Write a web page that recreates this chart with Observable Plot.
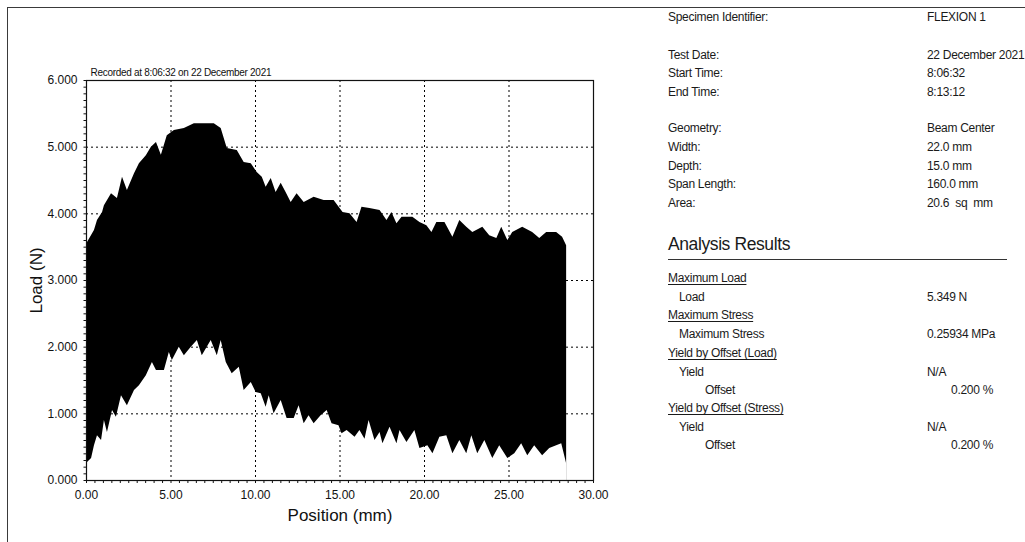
<!DOCTYPE html>
<html>
<head>
<meta charset="utf-8">
<script src="https://cdn.jsdelivr.net/npm/d3@7"></script>
<script src="https://cdn.jsdelivr.net/npm/@observablehq/plot@0.6"></script>
<style>
  body { margin: 0; background: #fff; font-family: "Liberation Sans", Arial, sans-serif; }
  #page { position: relative; width: 1025px; height: 542px; overflow: hidden; background: #fff; }
  #box { position: absolute; left: 7px; top: 7px; width: 1100px; height: 600px; border-top: 1px solid #3a3a3a; border-left: 1px solid #3a3a3a; }
  #chart { position: absolute; left: 0; top: 0; }
  .t { position: absolute; font-size: 12px; line-height: 14px; color: #1a1a1a; white-space: nowrap; letter-spacing: -0.3px; }
  .u { text-decoration: underline; text-underline-offset: 2px; }
  .r { text-align: right; }
  #ar { position: absolute; left: 668px; top: 234px; font-size: 17.5px; line-height: 20px; color: #1a1a1a; white-space: nowrap; letter-spacing: -0.4px; }
  #arline { position: absolute; left: 668px; top: 259px; width: 339px; height: 0; border-top: 1px solid #333; }
  .ttl text { letter-spacing: -0.3px; }
</style>
</head>
<body>
<div id="page">
  <div id="box"></div>
  <div id="chart"></div>

  <div class="t" style="left:668px;top:10px">Specimen Identifier:</div>
  <div class="t" style="left:927px;top:10px">FLEXION 1</div>

  <div class="t" style="left:668px;top:48px">Test Date:</div>
  <div class="t" style="left:927px;top:48px">22 December 2021</div>
  <div class="t" style="left:668px;top:66px">Start Time:</div>
  <div class="t" style="left:927px;top:66px">8:06:32</div>
  <div class="t" style="left:668px;top:85px">End Time:</div>
  <div class="t" style="left:927px;top:85px">8:13:12</div>

  <div class="t" style="left:668px;top:121px">Geometry:</div>
  <div class="t" style="left:927px;top:121px">Beam Center</div>
  <div class="t" style="left:668px;top:140px">Width:</div>
  <div class="t" style="left:927px;top:140px">22.0 mm</div>
  <div class="t" style="left:668px;top:159px">Depth:</div>
  <div class="t" style="left:927px;top:159px">15.0 mm</div>
  <div class="t" style="left:668px;top:177px">Span Length:</div>
  <div class="t" style="left:927px;top:177px">160.0 mm</div>
  <div class="t" style="left:668px;top:196px">Area:</div>
  <div class="t" style="left:927px;top:196px">20.6&nbsp; sq&nbsp; mm</div>

  <div id="ar">Analysis Results</div>
  <div id="arline"></div>

  <div class="t u" style="left:668px;top:271px">Maximum Load</div>
  <div class="t" style="left:679px;top:290px">Load</div>
  <div class="t" style="left:927px;top:290px">5.349 N</div>
  <div class="t u" style="left:668px;top:308px">Maximum Stress</div>
  <div class="t" style="left:679px;top:327px">Maximum Stress</div>
  <div class="t" style="left:927px;top:327px">0.25934 MPa</div>
  <div class="t u" style="left:668px;top:346px">Yield by Offset (Load)</div>
  <div class="t" style="left:679px;top:365px">Yield</div>
  <div class="t" style="left:927px;top:365px">N/A</div>
  <div class="t" style="left:705px;top:383px">Offset</div>
  <div class="t r" style="right:32px;top:383px">0.200 %</div>
  <div class="t u" style="left:668px;top:401px">Yield by Offset (Stress)</div>
  <div class="t" style="left:679px;top:420px">Yield</div>
  <div class="t" style="left:927px;top:420px">N/A</div>
  <div class="t" style="left:705px;top:438px">Offset</div>
  <div class="t r" style="right:32px;top:438px">0.200 %</div>
</div>

<script>
// ---- Data (Position mm, Load N) ----
const upperX = [0, 0.06, 0.47, 0.65, 0.95, 1.06, 1.48, 1.83, 2.13, 2.42, 2.84, 3.13, 3.54, 3.84, 4.14, 4.43, 4.78, 5.20, 5.79, 6.38, 6.97, 7.56, 7.97, 8.33, 8.92, 9.33, 9.75, 10.10, 10.40, 10.63, 10.93, 11.22, 11.52, 11.81, 12.11, 12.46, 12.88, 13.47, 14.06, 14.65,
  15.18, 15.59, 16.01, 16.30, 16.77, 17.37, 17.78, 18.07, 18.37, 18.67, 19.31, 19.73, 20.14, 20.44, 20.73, 21.21, 21.68, 22.09, 22.50, 22.86, 23.45, 23.86, 24.28, 24.57, 24.93, 25.22, 25.81, 26.40, 26.82, 27.23, 27.82, 28.17, 28.41];
const upperLoad = [3.50, 3.57, 3.75, 3.90, 4.02, 4.12, 4.30, 4.23, 4.55, 4.35, 4.60, 4.75, 4.87, 5.00, 5.07, 4.88, 5.17, 5.25, 5.28, 5.35, 5.35, 5.35, 5.28, 4.98, 4.95, 4.77, 4.75, 4.62, 4.55, 4.40, 4.53, 4.32, 4.46, 4.32, 4.17, 4.30, 4.17, 4.25, 4.20, 4.20,
  4.02, 4.00, 3.87, 4.10, 4.08, 4.05, 3.90, 4.02, 3.85, 3.95, 3.95, 3.87, 3.82, 3.72, 3.87, 3.87, 3.65, 3.90, 3.80, 3.72, 3.80, 3.67, 3.63, 3.80, 3.60, 3.72, 3.80, 3.72, 3.63, 3.72, 3.72, 3.65, 3.52];

const lowerX = [0, 0.06, 0.30, 0.47, 0.65, 0.89, 1.06, 1.24, 1.54, 1.77, 2.07, 2.42, 2.84, 3.13, 3.54, 3.90, 4.14, 4.61, 4.90, 5.08, 5.49, 5.79, 6.20, 6.56, 6.85, 7.38, 7.74, 7.97, 8.27, 8.62, 9.04, 9.33, 9.75, 10.04, 10.34, 10.63, 10.81, 11.10, 11.52, 11.87, 12.29, 12.58, 12.88, 13.17, 13.47, 13.88, 14.24, 14.53, 14.94,
  15.12, 15.42, 15.89, 16.18, 16.48, 16.72, 17.07, 17.37, 17.54, 17.96, 18.37, 18.55, 18.96, 19.43, 19.73, 20.20, 20.50, 20.91, 21.32, 21.68, 22.09, 22.50, 22.80, 23.15, 23.57, 24.04, 24.45, 24.93, 25.34, 25.75, 26.11, 26.52, 26.99, 27.41, 27.82, 28.12, 28.41];
const lowerLoad = [0.25, 0.27, 0.33, 0.52, 0.67, 0.60, 0.90, 0.72, 1.05, 0.95, 1.27, 1.12, 1.35, 1.42, 1.57, 1.77, 1.65, 1.65, 1.92, 1.80, 2.00, 1.87, 2.00, 2.10, 1.87, 2.10, 1.87, 2.10, 1.77, 1.60, 1.70, 1.35, 1.47, 1.32, 1.30, 1.10, 1.27, 1.00, 1.20, 0.93, 0.93, 1.12, 0.85, 0.97, 0.85, 0.97, 1.05, 0.85, 0.82,
  0.70, 0.75, 0.65, 0.75, 0.62, 0.90, 0.60, 0.72, 0.55, 0.80, 0.55, 0.75, 0.57, 0.75, 0.48, 0.52, 0.40, 0.65, 0.67, 0.40, 0.60, 0.40, 0.67, 0.40, 0.60, 0.33, 0.52, 0.33, 0.40, 0.55, 0.37, 0.52, 0.37, 0.48, 0.52, 0.55, 0.25];

const xTicks = [0, 5, 10, 15, 20, 25, 30];
const yTicks = [0, 1, 2, 3, 4, 5, 6];
const xGrid = [5, 10, 15, 20, 25];
const yGrid = [1, 2, 3, 4, 5];
const xMinorStep = 0.5;
const yMinorStep = 0.1;
const titleText = "Recorded at 8:06:32 on 22 December 2021";
const xLabel = "Position (mm)";
const yLabel = "Load (N)";

const upper = upperX.map((x, i) => ({x, y: upperLoad[i]}));
const lower = lowerX.map((x, i) => ({x, y: lowerLoad[i]}));
const xMinor = d3.range(0, 30 + 1e-9, xMinorStep);
const yMinor = d3.range(0, 6 + 1e-9, yMinorStep);

const chart = Plot.plot({
  width: 640,
  height: 542,
  marginLeft: 86,
  marginRight: 47,
  marginTop: 80,
  marginBottom: 62,
  style: { fontFamily: "'Liberation Sans', Arial, sans-serif", fontSize: "12px", color: "#111", background: "transparent" },
  x: { domain: [0, 30] },
  y: { domain: [0, 6] },
  marks: [
    Plot.areaY(upper, { x: "x", y: "y", fill: "black", curve: "linear" }),
    Plot.areaY(lower, { x: "x", y: "y", fill: "white", curve: "linear" }),
    Plot.ruleX(xGrid, { stroke: "black", strokeDasharray: "2,3", strokeWidth: 1 }),
    Plot.ruleY(yGrid, { stroke: "black", strokeDasharray: "2,3", strokeWidth: 1 }),
    Plot.frame({ stroke: "#111", strokeWidth: 1.2 }),
    Plot.axisX(xMinor, { tickSize: 3, tickFormat: () => "", label: null, stroke: "#111" }),
    Plot.axisX(xTicks, { tickSize: 0, tickPadding: 10, tickFormat: d3.format(".2f"), label: null, fontSize: 12 }),
    Plot.axisY(yMinor, { tickSize: 2.5, tickFormat: () => "", label: null, stroke: "#111" }),
    Plot.axisY(yTicks, { tickSize: 0, tickPadding: 9, tickFormat: d3.format(".3f"), label: null, fontSize: 12 }),
    Plot.text([titleText], { text: d => d, frameAnchor: "top-left", dx: 4, dy: -8, lineAnchor: "middle", textAnchor: "start", fontSize: 10, className: "ttl" }),
    Plot.text([xLabel], { text: d => d, frameAnchor: "bottom", dy: 35, lineAnchor: "middle", fontSize: 17 }),
    Plot.text([yLabel], { text: d => d, frameAnchor: "left", dx: -50, rotate: -90, lineAnchor: "middle", textAnchor: "middle", fontSize: 17 })
  ]
});
document.getElementById("chart").appendChild(chart);
</script>
</body>
</html>
